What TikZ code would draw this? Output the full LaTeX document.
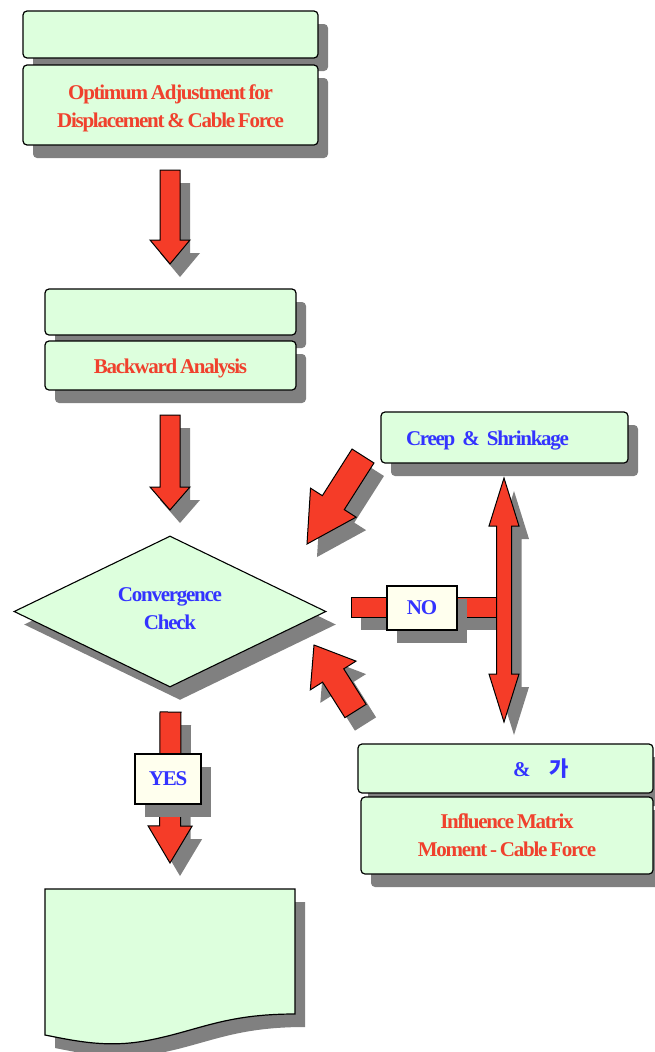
\documentclass[tikz,border=0pt]{standalone}
\usepackage{fontspec}
\usepackage{tikz}
\usetikzlibrary{calc,shadows,shapes.geometric}
\setmainfont{Liberation Serif}[LetterSpace=-6,WordSpace=0.7]
\newfontfamily\krfont{Noto Sans CJK KR}
\definecolor{boxgreen}{RGB}{221,255,221}
\definecolor{arrred}{RGB}{245,60,40}
\definecolor{txtred}{RGB}{240,65,45}
\definecolor{txtblue}{RGB}{51,51,255}
\definecolor{tagfill}{RGB}{255,255,238}
\newcommand\dropline[1]{\raisebox{-3pt}[\height][\depth]{#1}}
\newcommand\liftline[1]{\raisebox{3pt}[\height][\depth]{#1}}
% block arrow: [opts]{tail}{tip}{half shaft}{half head}{head length}
\newcommand\blockarrow[6][]{%
  \coordinate (ba-h) at ($(#3)!#6!(#2)$);
  \draw[blockarr,#1] ($(#2)!#4!90:(#3)$) -- ($(ba-h)!#4!90:(#3)$) -- ($(ba-h)!#5!90:(#3)$) -- (#3)
    -- ($(ba-h)!#5!-90:(#3)$) -- ($(ba-h)!#4!-90:(#3)$) -- ($(#2)!#4!-90:(#3)$) -- cycle;}
% same with two heads
\newcommand\dblarrow[6][]{%
  \coordinate (da-a) at ($(#2)!#6!(#3)$);
  \coordinate (da-b) at ($(#3)!#6!(#2)$);
  \draw[blockarr,#1] (#2) -- ($(da-a)!#5!90:(#3)$) -- ($(da-a)!#4!90:(#3)$) -- ($(da-b)!#4!90:(#3)$)
    -- ($(da-b)!#5!90:(#3)$) -- (#3) -- ($(da-b)!#5!-90:(#3)$) -- ($(da-b)!#4!-90:(#3)$)
    -- ($(da-a)!#4!-90:(#3)$) -- ($(da-a)!#5!-90:(#3)$) -- cycle;}

\begin{document}
\begin{tikzpicture}[x=1pt,y=-1pt,font=\fontsize{21}{28}\selectfont\bfseries,
shadowed/.style={drop shadow={shadow xshift=10pt,shadow yshift=-13pt,opacity=1,fill=black!50}},
box/.style={draw=black,line width=1.2pt,fill=boxgreen,rounded corners=4pt,inner sep=0pt,align=center,shadowed},
answer/.style={draw=black,line width=1.1pt,fill=tagfill,inner sep=0pt,text=txtblue,shadowed},
blockarr/.style={draw=black,line width=1pt,fill=arrred,shadowed},
docshape/.style={draw=black,line width=1.2pt,fill=boxgreen,shadowed}]
\useasboundingbox (0,0) rectangle (655,1052);

\node[box,minimum width=295pt,minimum height=47pt] (plan) at (170.5,34.5) {};
\node[box,minimum width=295pt,minimum height=80pt,text=txtred] (optim) at (170.5,105) {\dropline{Optimum Adjustment for}\\\dropline{Displacement \& Cable Force}};
\coordinate (a1t) at (170,170);
\coordinate (a1h) at (170,264);
\blockarrow{a1t}{a1h}{10pt}{20pt}{24pt}

\node[box,minimum width=251pt,minimum height=46pt] (back0) at (170.5,312) {};
\node[box,minimum width=251pt,minimum height=49pt,text=txtred] (backward) at (170.5,365.5) {\dropline{Backward Analysis}};
\coordinate (a2t) at (170,415);
\coordinate (a2h) at (170,510);
\blockarrow{a2t}{a2h}{10pt}{20pt}{23pt}

\node[diamond,draw=black,line width=1.1pt,fill=boxgreen,inner sep=0pt,aspect=2.066,
  minimum width=312pt,minimum height=151pt,align=center,text=txtblue,shadowed] (conv) at (170,611.5) {\liftline{Convergence}\\\liftline{Check}};

\node[box,minimum width=247pt,minimum height=51pt,text=txtblue,text width=197pt,align=left] (creep) at (504.5,437.5) {\dropline{Creep \& Shrinkage}};
\coordinate (c1t) at (363,456);
\coordinate (c1h) at (307,544);
\blockarrow{c1t}{c1h}{13pt}{27pt}{49pt}

% NO branch
\coordinate (nol) at (351,597);
\coordinate (nor) at (499,617);
\draw[blockarr] (nol) rectangle (nor);
\coordinate (dtop) at (504,478);
\coordinate (dbot) at (504,722);
\dblarrow{dtop}{dbot}{7.5pt}{15pt}{48pt}
\node[answer,minimum width=70pt,minimum height=44pt] (no) at (422,608) {NO};

\coordinate (c2t) at (355.5,711);
\coordinate (c2h) at (314,645);
\blockarrow{c2t}{c2h}{12.5pt}{27pt}{36pt}

\node[box,minimum width=295pt,minimum height=49pt,text=txtblue,text width=127pt,align=right] (infl0) at (505.5,768.5) {\&\hspace{19pt}{\krfont 가}};
\node[box,minimum width=292pt,minimum height=77pt,text=txtred] (infl) at (507,835.5) {Influence Matrix\\Moment - Cable Force};

% YES branch
\coordinate (a3t) at (170.5,712);
\coordinate (a3h) at (170,863);
\blockarrow{a3t}{a3h}{10.5pt}{22pt}{37pt}
\node[answer,minimum width=66pt,minimum height=50pt] (yes) at (168,779) {YES};

\draw[docshape] (45,889) -- (295,889) -- (295,1014) .. controls (225,1014) and (200,1030) .. (150,1040)
  .. controls (110,1048) and (80,1042) .. (45,1035) -- cycle;
\end{tikzpicture}
\end{document}
